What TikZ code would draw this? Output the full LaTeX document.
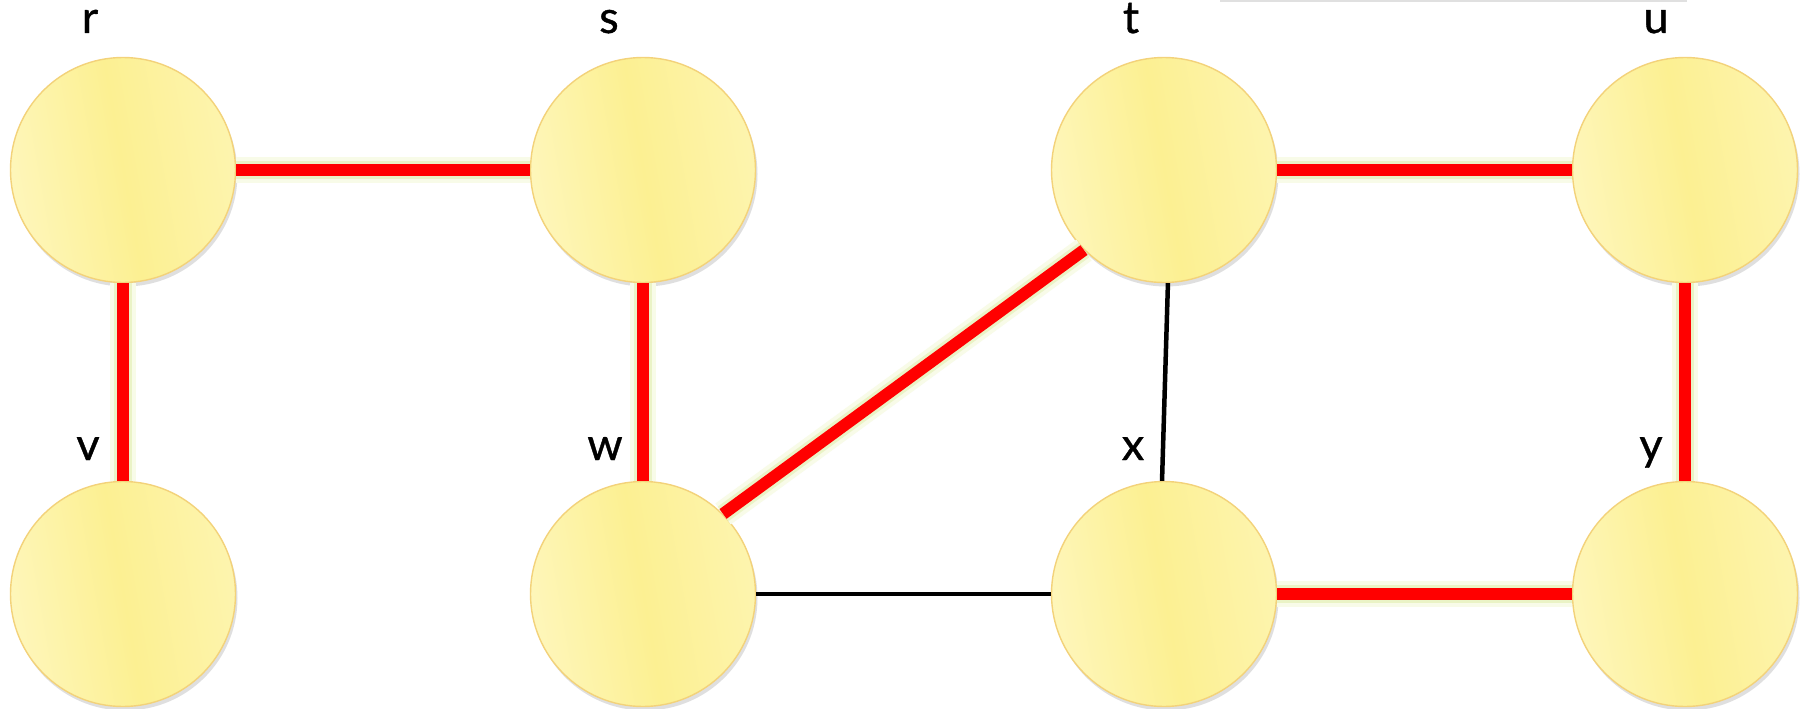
\documentclass[tikz,border=0pt]{standalone}
\usepackage{fontspec}
\setmainfont{Lato}
\newfontfamily\lblfont{Lato}[FakeBold=0.9]
\usetikzlibrary{shadows}
\definecolor{yelL}{HTML}{FEF6BA}
\definecolor{yelM}{HTML}{FCF092}
\definecolor{yelB}{HTML}{F3D27A}
\definecolor{glowA}{HTML}{F8FBE8}
\definecolor{glowB}{HTML}{EAF3C6}
\definecolor{redE}{HTML}{FF0000}
\tikzset{
  vtx/.style={circle, minimum size=225pt, inner sep=0pt, draw=yelB, line width=1.4pt,
    shading=axis, left color=yelL, right color=yelL!70!yelM, middle color=yelM, shading angle=100,
    drop shadow={opacity=0.25, shadow xshift=2pt, shadow yshift=-4pt}},
  lbl/.style={anchor=base, inner sep=0pt, font=\lblfont\fontsize{45}{50}\selectfont},
  glow1/.style={draw=glowA, line width=26pt},
  glow2/.style={draw=glowB, line width=18pt},
  redge/.style={draw=redE, line width=12pt},
  bedge/.style={draw=black, line width=4.5pt}
}
\newcommand{\treeedge}[2]{%
  \draw[glow1] #1 -- #2;
  \draw[glow2] #1 -- #2;
  \draw[redge] #1 -- #2;}
\begin{document}
\begin{tikzpicture}[x=1pt,y=-1pt]
\useasboundingbox (0,0) rectangle (1808,709);
\fill[white] (0,0) rectangle (1808,709);
\draw[black!12, line width=2.5pt] (1220,0.5) -- (1687,0.5);
% vertices
\node[vtx] (r) at (123,170) {};
\node[vtx] (s) at (643,170) {};
\node[vtx] (t) at (1164,170) {};
\node[vtx] (u) at (1685,170) {};
\node[vtx] (v) at (123,594) {};
\node[vtx] (w) at (643,594) {};
\node[vtx] (x) at (1164,594) {};
\node[vtx] (y) at (1685,594) {};
% labels
\node[lbl] (lr) at (90,33) {r};
\node[lbl] (ls) at (609,33) {s};
\node[lbl] (lt) at (1131,33) {t};
\node[lbl] (lu) at (1656,33) {u};
\node[lbl] (lv) at (88,460) {v};
\node[lbl] (lw) at (605,460) {w};
\node[lbl] (lx) at (1133,460) {x};
\node[lbl] (ly) at (1651,460) {y};
% non-tree edges
\draw[bedge] (t.-88) -- (x.91);
\draw[bedge] (w) -- (x);
% tree edges
\treeedge{(r)}{(s)}
\treeedge{(r)}{(v)}
\treeedge{(s)}{(w)}
\treeedge{(w.45)}{(t.225)}
\treeedge{(t)}{(u)}
\treeedge{(u)}{(y)}
\treeedge{(x)}{(y)}
\end{tikzpicture}
\end{document}
